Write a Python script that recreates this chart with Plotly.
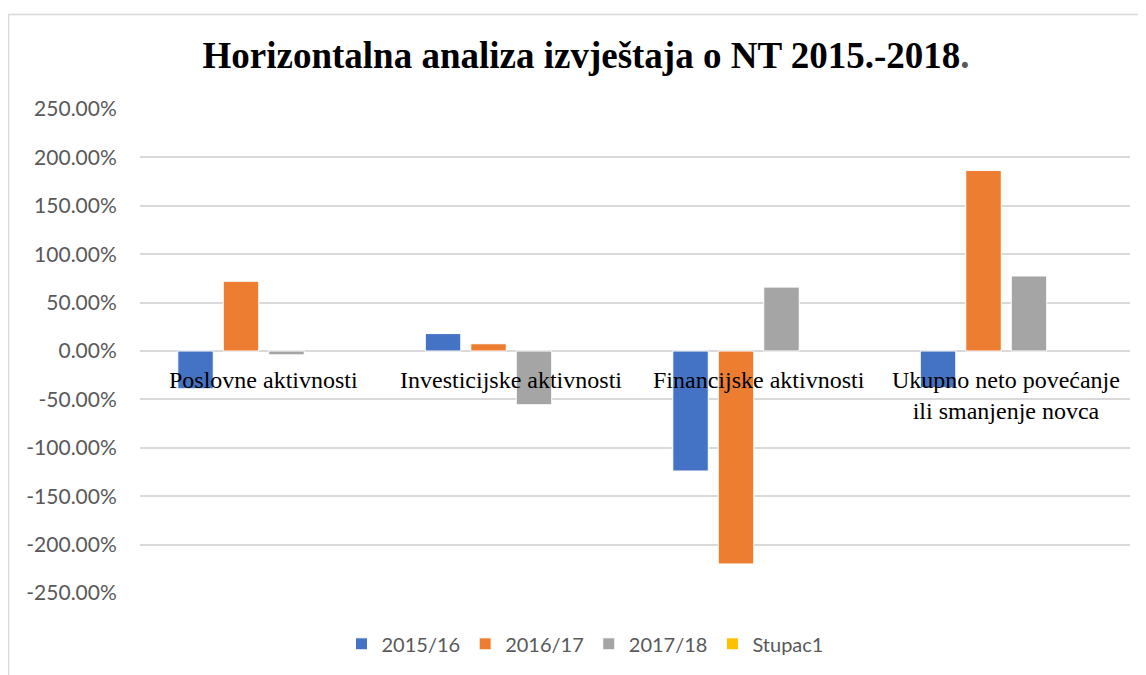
import plotly.graph_objects as go

categories = ["Poslovne aktivnosti", "Investicijske aktivnosti", "Financijske aktivnosti",
              "Ukupno neto povećanje ili smanjenje novca"]
category_labels = ["Poslovne aktivnosti", "Investicijske aktivnosti", "Financijske aktivnosti",
                   "Ukupno neto povećanje<br>ili smanjenje novca"]
series_names = ["2015/16", "2016/17", "2017/18", "Stupac1"]
v_2015_16 = [-39.0, 18.0, -124.0, -38.0]
v_2016_17 = [72.0, 7.5, -220.0, 186.5]
v_2017_18 = [-4.0, -55.5, 66.0, 77.5]
v_stupac1 = [None, None, None, None]
colors = ["#4472C4", "#ED7D31", "#A5A5A5", "#FFC000"]
y_ticks = [250, 200, 150, 100, 50, 0, -50, -100, -150, -200, -250]
y_tick_text = [f"{v:.2f}%" for v in y_ticks]

W, H = 1138, 667
L, R, T, B = 132, 16, 101, 78

fig = go.Figure()
for name, vals, col in zip(series_names, [v_2015_16, v_2016_17, v_2017_18, v_stupac1], colors):
    fig.add_trace(go.Bar(x=categories, y=vals, name=name, marker_color=col,
                         marker_line_color="white", marker_line_width=1))

for cat, lab in zip(categories, category_labels):
    fig.add_annotation(x=cat, y=0, xref="x", yref="y", text=lab, showarrow=False,
                       yanchor="top", yshift=-14,
                       font=dict(family="Liberation Serif", size=24, color="black"))

fig.update_layout(
    width=W, height=H,
    margin=dict(l=L, r=R, t=T, b=B),
    paper_bgcolor="white", plot_bgcolor="white",
    barmode="group", bargap=0.265, bargroupgap=0.22,
    title=dict(text="Horizontalna analiza izvještaja o NT 2015.-2018<span style='color:#595959'>.</span>",
               x=(586 - 8) / W, xanchor="center", y=1 - 47 / H, yanchor="middle",
               font=dict(family="Liberation Serif", size=37, color="black", weight="bold")),
    showlegend=True,
    legend=dict(orientation="h", x=(585 - 8 - L) / (W - L - R), xanchor="center",
                y=-0.105, yanchor="middle",
                font=dict(family="Lato", size=20, color="#595959"), itemwidth=30,
                traceorder="normal"),
    xaxis=dict(showticklabels=False, showgrid=False, zeroline=False, showline=False),
    yaxis=dict(range=[-250, 250], tickvals=y_ticks, ticktext=y_tick_text,
               showgrid=True, gridcolor="#D9D9D9", gridwidth=1.5,
               zeroline=True, zerolinecolor="#D9D9D9", zerolinewidth=1.5,
               ticks="outside", ticklen=18, tickcolor="rgba(0,0,0,0)",
               tickfont=dict(family="Lato", size=21, color="#595959")),
)
fig.add_shape(type="rect", xref="paper", yref="paper",
              x0=-0.1328, x1=1.02, y0=-0.2, y1=1.195,
              line=dict(color="#D9D9D9", width=1.5), fillcolor="rgba(0,0,0,0)", layer="below")

fig.write_html("out.html")
